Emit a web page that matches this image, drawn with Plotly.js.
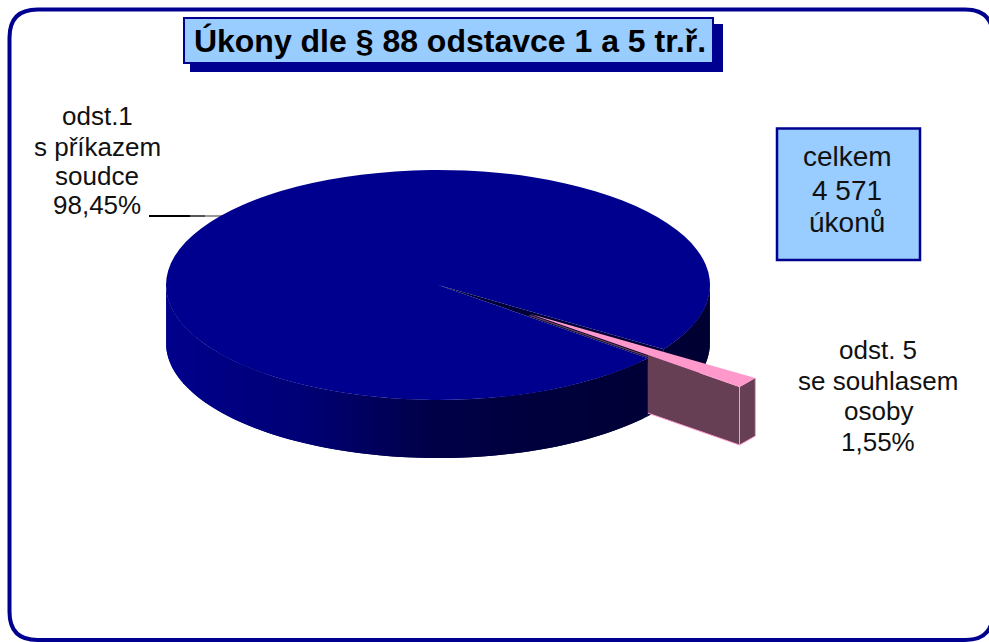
<!DOCTYPE html>
<html>
<head>
<meta charset="utf-8">
<script src="https://cdn.plot.ly/plotly-3.0.1.min.js"></script>
<style>html,body{margin:0;padding:0;background:#fff}#chart{width:989px;height:642px}</style>
</head>
<body>
<div id="chart"></div>
<script>
// ---- data ----
const categories = ['odst.1 s příkazem soudce', 'odst. 5 se souhlasem osoby'];
const shares = [98.45, 1.55];
const titleText = 'Úkony dle § 88 odstavce 1 a 5 tr.ř.';
const mainLabel = ['odst.1', 's příkazem', 'soudce', '98,45%'];
const minorLabel = ['odst. 5', 'se souhlasem', 'osoby', '1,55%'];
const totalLabel = ['celkem', '4 571', 'úkonů'];
const sliceColors = ['#00008e', '#ff99cc'];

// ---- look of the tilted pie ----
const W = 989, H = 642;
const cx = 438, cy = 285, rx = 272, ry = 115, depth = 58;
const midAngle = 36.7, pull = 0.42;
const navy = '#000090', boxFill = '#99ccff', pinkWall = '#663f55', pinkEdge = '#ff99cc';

const span = 360 * shares[1] / (shares[0] + shares[1]);
const a1 = midAngle - span / 2, a2 = midAngle + span / 2;
const rad = d => d * Math.PI / 180;
const rim = (a, dy = 0, ox = 0, oy = 0) => [cx + ox + rx * Math.cos(rad(a)), cy + oy + ry * Math.sin(rad(a)) + dy];
const pullX = pull * rx * Math.cos(rad(midAngle)), pullY = pull * ry * Math.sin(rad(midAngle));

function wallBlue(x) {
  const stops = [[166, 140], [300, 118], [430, 72], [550, 60], [710, 50]];
  for (let i = 1; i < stops.length; i++) {
    if (x <= stops[i][0]) {
      const t = (x - stops[i - 1][0]) / (stops[i][0] - stops[i - 1][0]);
      return Math.round(stops[i - 1][1] + t * (stops[i][1] - stops[i - 1][1]));
    }
  }
  return 50;
}
function poly(points, color, lw) {
  return {
    type: 'scatter', mode: 'lines', x: points.map(p => p[0]), y: points.map(p => p[1]),
    fill: 'toself', fillcolor: color, line: { color: color, width: lw === undefined ? 0 : lw },
    hoverinfo: 'skip', showlegend: false
  };
}
// Each strip reaches back over its neighbour so no seams show between them.
function wallStrips(from, to, step) {
  const out = [];
  for (let a = from; a < to - 1e-6; a += step) {
    const b = Math.min(a + step * 2, to);
    const top1 = rim(a), top2 = rim(b), bot1 = rim(a, depth), bot2 = rim(b, depth);
    const mid = rim(a + step / 2);
    const col = 'rgb(0,0,' + wallBlue(mid[0]) + ')';
    out.push(poly([top1, top2, bot2, bot1, top1], col));
  }
  return out;
}

const traces = [];
// wall on the far side of the gap
traces.push(...wallStrips(0, a1, 2));
// inside of the gap left by the pulled slice
const centre = [cx, cy];
traces.push(poly([centre, rim(a1), rim(a1, depth), rim(a2, depth), rim(a2), centre], '#000038'));
// walls of the pulled slice
const outerA = rim(a2, 0, pullX, pullY), outerB = rim(a1, 0, pullX, pullY);
const apex = [cx + pullX, cy + pullY];
const cut = rim(a2);
const t = (cut[0] - apex[0]) / (outerA[0] - apex[0]);
const cutTop = [cut[0], apex[1] + t * (outerA[1] - apex[1])];
const down = p => [p[0], p[1] + depth];
traces.push(poly([cutTop, outerA, down(outerA), down(cutTop), cutTop], pinkWall));
traces.push(poly([outerA, outerB, down(outerB), down(outerA), outerA], pinkWall));
traces.push({
  type: 'scatter', mode: 'lines',
  x: [cutTop[0], outerA[0], outerB[0], outerB[0], null, outerA[0], outerA[0]],
  y: [down(cutTop)[1], down(outerA)[1], down(outerB)[1], outerB[1], null, outerA[1], down(outerA)[1]],
  line: { color: pinkEdge, width: 1 }, hoverinfo: 'skip', showlegend: false
});
// wall in front of everything (painted from the right so each strip covers the last seam)
traces.push(...wallStrips(a2, 180, 1.5));
// the slices themselves
traces.push({
  type: 'pie', labels: categories, values: shares, sort: false, direction: 'clockwise',
  rotation: 90 + a2, pull: [0, pull], textinfo: 'none', hoverinfo: 'skip',
  marker: { colors: sliceColors, line: { width: 0 } }, domain: { x: [0, 1], y: [0, 1] },
  showlegend: false
});

const rect = (x0, y0, x1, y1, fill, lineColor, lw) => ({
  type: 'rect', xref: 'x', yref: 'y', x0, y0, x1, y1, fillcolor: fill,
  line: { color: lineColor, width: lw }, layer: 'below'
});
const seg = (x0, x1, color) => ({
  type: 'line', xref: 'x', yref: 'y', x0, x1, y0: 216, y1: 216, line: { color, width: 2 }, layer: 'below'
});
const R = 28, L = 9.5, T = 9.5, B = 640, Rt = 993;
const frame = {
  type: 'path', xref: 'x', yref: 'y', layer: 'below', fillcolor: 'rgba(0,0,0,0)',
  line: { color: navy, width: 4 },
  path: `M ${L + R} ${T} L ${Rt - R} ${T} Q ${Rt} ${T} ${Rt} ${T + R} L ${Rt} ${B - R} Q ${Rt} ${B} ${Rt - R} ${B} ` +
        `L ${L + R} ${B} Q ${L} ${B} ${L} ${B - R} L ${L} ${T + R} Q ${L} ${T} ${L + R} ${T} Z`
};
const underside = {
  type: 'line', xref: 'x', yref: 'y', layer: 'above',
  x0: apex[0], y0: apex[1] + 1.5, x1: cutTop[0], y1: cutTop[1] + 1.5,
  line: { color: pinkWall, width: 1.2 }
};

const stack = (lines, x, ys, size) => lines.map((text, i) => ({
  xref: 'x', yref: 'y', x, y: ys[i], text, showarrow: false,
  xanchor: 'center', yanchor: 'middle', align: 'center',
  font: { family: '"Liberation Sans", Arial, sans-serif', size, color: '#111' }
}));

const layout = {
  width: W, height: H, margin: { l: 0, r: 0, t: 0, b: 0 },
  paper_bgcolor: '#fff', plot_bgcolor: '#fff', showlegend: false,
  xaxis: { range: [0, W], visible: false, fixedrange: true },
  yaxis: { range: [H, 0], visible: false, fixedrange: true },
  title: {
    text: '<b>' + titleText + '</b>', x: 450 / W, xref: 'paper', xanchor: 'center',
    y: 1 - 41 / H, yref: 'paper', yanchor: 'middle',
    font: { family: '"Liberation Sans", Arial, sans-serif', size: 32, color: '#000' }
  },
  shapes: [
    frame,
    rect(190, 24, 723, 72, navy, navy, 0),
    rect(184, 18, 713, 63, boxFill, navy, 2),
    rect(777, 128.5, 920, 260, boxFill, navy, 2.5),
    seg(149, 190, '#000'), seg(190, 205, '#555'), seg(205, 224, '#999'),
    underside
  ],
  annotations: [
    ...stack(mainLabel, 97, [116, 147, 176, 205], 26),
    ...stack(minorLabel, 878, [350, 381, 411, 442], 26),
    ...stack(totalLabel, 847, [156, 190, 222], 28)
  ]
};

const gd = document.getElementById('chart');
Plotly.newPlot(gd, traces, layout, { staticPlot: true, displayModeBar: false }).then(() => {
  // Plotly pies are always round: tilt the drawn pie into the reference's flat ellipse.
  const c = gd.calcdata.find(d => d[0].trace.type === 'pie')[0];
  const pieLayer = gd.querySelector('.pielayer');
  pieLayer.setAttribute('transform',
    `translate(${cx},${cy}) scale(${rx / c.r},${ry / c.r}) translate(${-c.cx},${-c.cy})`);
});
</script>
</body>
</html>
